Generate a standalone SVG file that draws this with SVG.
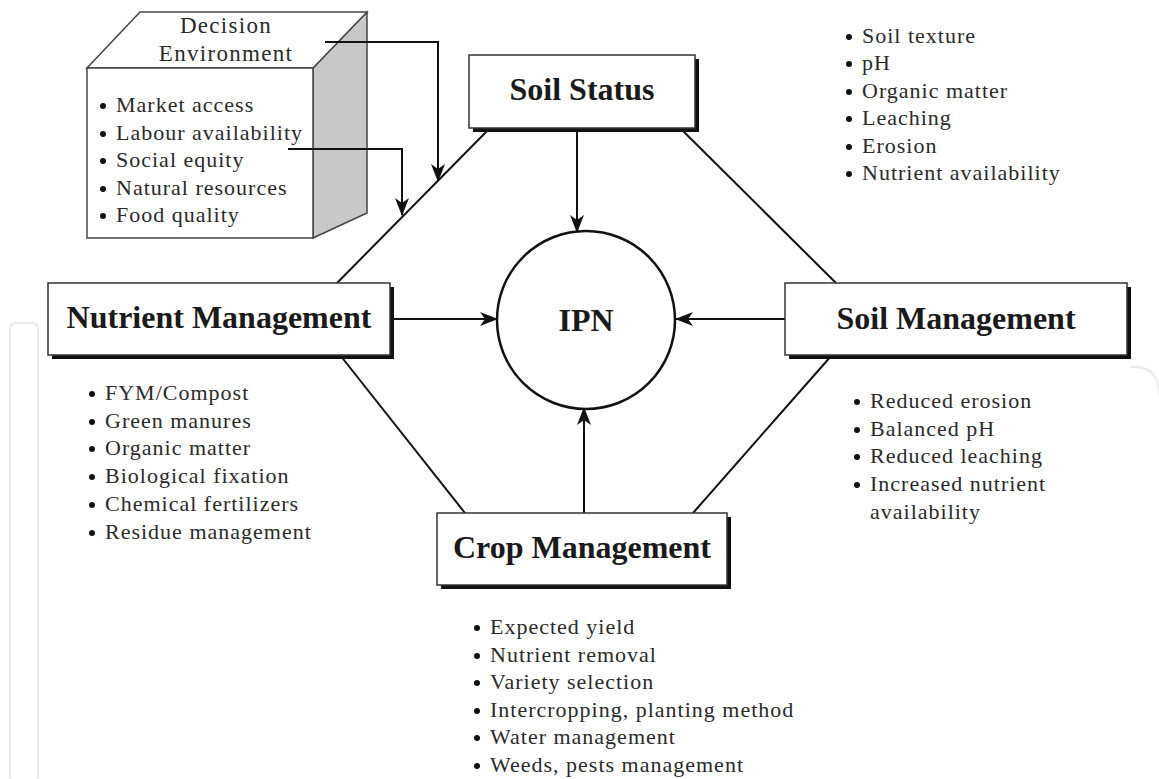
<svg xmlns="http://www.w3.org/2000/svg" width="1159" height="779" viewBox="0 0 1159 779">
<style>
.bg{fill:#fff}
.box{fill:#fff;stroke:#333;stroke-width:1.5}
.shadow{fill:#111}
.title{font-family:"Liberation Serif","Times New Roman",serif;font-weight:bold;font-size:32px;fill:#1a1a1a;text-anchor:middle}
.item{font-family:"Liberation Serif","Times New Roman",serif;font-size:22px;fill:#2a2a2a;letter-spacing:1px}
.head{font-family:"Liberation Serif","Times New Roman",serif;font-size:23px;fill:#2a2a2a;letter-spacing:1.3px;text-anchor:middle}
.dot{fill:#111}
.line{fill:none;stroke:#111;stroke-width:2}
.wm{fill:none;stroke:#ececec;stroke-width:2}
</style>
<defs>
<marker id="ah" markerWidth="18" markerHeight="14" refX="17" refY="7" orient="auto" markerUnits="userSpaceOnUse">
<path d="M0,0 L18,7 L0,14 L5,7 z" fill="#111"/>
</marker>
</defs>
<rect class="bg" x="0" y="0" width="1159" height="779"/>
<g id="watermark">
<rect class="wm" x="10" y="323" width="28" height="460" rx="6"/>
<path class="wm" d="M1131,367 L1135,367 Q1159,367 1159,395"/>
</g>
<g id="decision-environment">
<polygon points="313,68 367,12 367,213 313,238" fill="#c8c8c8" stroke="#444" stroke-width="1.5"/>
<polygon points="87,68 140,12 367,12 313,68" fill="#fff" stroke="#444" stroke-width="1.5"/>
<rect x="87" y="68" width="226" height="170" fill="#fff" stroke="#444" stroke-width="1.5"/>
<text class="head" x="226" y="33">Decision</text>
<text class="head" x="226" y="61">Environment</text>
<circle class="dot" cx="103" cy="106" r="3"/><text class="item" x="116" y="112">Market access</text>
<circle class="dot" cx="103" cy="134" r="3"/><text class="item" x="116" y="140">Labour availability</text>
<circle class="dot" cx="103" cy="161" r="3"/><text class="item" x="116" y="167">Social equity</text>
<circle class="dot" cx="103" cy="189" r="3"/><text class="item" x="116" y="195">Natural resources</text>
<circle class="dot" cx="103" cy="216" r="3"/><text class="item" x="116" y="222">Food quality</text>
</g>
<g id="connectors">
<line class="line" x1="490" y1="128" x2="337" y2="283"/>
<line class="line" x1="680" y1="128" x2="836" y2="283"/>
<line class="line" x1="340" y1="355" x2="465" y2="513"/>
<line class="line" x1="832" y1="355" x2="693" y2="513"/>
<line class="line" x1="577" y1="128" x2="577" y2="232" marker-end="url(#ah)"/>
<line class="line" x1="584" y1="513" x2="584" y2="408" marker-end="url(#ah)"/>
<line class="line" x1="393" y1="319" x2="497" y2="319" marker-end="url(#ah)"/>
<line class="line" x1="785" y1="319" x2="676" y2="319" marker-end="url(#ah)"/>
<polyline class="line" points="325,42 438,42 438,181" marker-end="url(#ah)"/>
<polyline class="line" points="288,149 402,149 402,215" marker-end="url(#ah)"/>
</g>
<g id="soil-status">
<rect class="shadow" x="473" y="59" width="226" height="73"/>
<rect class="box" x="469" y="55" width="226" height="73"/>
<text class="title" x="582" y="100">Soil Status</text>
</g>
<g id="soil-status-list">
<circle class="dot" cx="849" cy="37" r="3"/><text class="item" x="862" y="43">Soil texture</text>
<circle class="dot" cx="849" cy="64" r="3"/><text class="item" x="862" y="70">pH</text>
<circle class="dot" cx="849" cy="92" r="3"/><text class="item" x="862" y="98">Organic matter</text>
<circle class="dot" cx="849" cy="119" r="3"/><text class="item" x="862" y="125">Leaching</text>
<circle class="dot" cx="849" cy="147" r="3"/><text class="item" x="862" y="153">Erosion</text>
<circle class="dot" cx="849" cy="174" r="3"/><text class="item" x="862" y="180">Nutrient availability</text>
</g>
<g id="ipn">
<circle cx="586" cy="320" r="89" fill="#fff" stroke="#111" stroke-width="2.5"/>
<text class="title" x="586" y="331">IPN</text>
</g>
<g id="nutrient-management">
<rect class="shadow" x="52" y="287" width="342" height="72"/>
<rect class="box" x="48" y="283" width="342" height="72"/>
<text class="title" x="219" y="328">Nutrient Management</text>
</g>
<g id="nutrient-management-list">
<circle class="dot" cx="92" cy="394" r="3"/><text class="item" x="105" y="400">FYM/Compost</text>
<circle class="dot" cx="92" cy="422" r="3"/><text class="item" x="105" y="428">Green manures</text>
<circle class="dot" cx="92" cy="449" r="3"/><text class="item" x="105" y="455">Organic matter</text>
<circle class="dot" cx="92" cy="477" r="3"/><text class="item" x="105" y="483">Biological fixation</text>
<circle class="dot" cx="92" cy="505" r="3"/><text class="item" x="105" y="511">Chemical fertilizers</text>
<circle class="dot" cx="92" cy="533" r="3"/><text class="item" x="105" y="539">Residue management</text>
</g>
<g id="soil-management">
<rect class="shadow" x="789" y="287" width="342" height="72"/>
<rect class="box" x="785" y="283" width="342" height="72"/>
<text class="title" x="956" y="329">Soil Management</text>
</g>
<g id="soil-management-list">
<circle class="dot" cx="857" cy="402" r="3"/><text class="item" x="870" y="408">Reduced erosion</text>
<circle class="dot" cx="857" cy="430" r="3"/><text class="item" x="870" y="436">Balanced pH</text>
<circle class="dot" cx="857" cy="457" r="3"/><text class="item" x="870" y="463">Reduced leaching</text>
<circle class="dot" cx="857" cy="485" r="3"/><text class="item" x="870" y="491">Increased nutrient</text>
<text class="item" x="870" y="519">availability</text>
</g>
<g id="crop-management">
<rect class="shadow" x="441" y="517" width="290" height="72"/>
<rect class="box" x="437" y="513" width="290" height="72"/>
<text class="title" x="582" y="558">Crop Management</text>
</g>
<g id="crop-management-list">
<circle class="dot" cx="477" cy="628" r="3"/><text class="item" x="490" y="634">Expected yield</text>
<circle class="dot" cx="477" cy="656" r="3"/><text class="item" x="490" y="662">Nutrient removal</text>
<circle class="dot" cx="477" cy="683" r="3"/><text class="item" x="490" y="689">Variety selection</text>
<circle class="dot" cx="477" cy="711" r="3"/><text class="item" x="490" y="717">Intercropping, planting method</text>
<circle class="dot" cx="477" cy="738" r="3"/><text class="item" x="490" y="744">Water management</text>
<circle class="dot" cx="477" cy="766" r="3"/><text class="item" x="490" y="772">Weeds, pests management</text>
</g>
</svg>
